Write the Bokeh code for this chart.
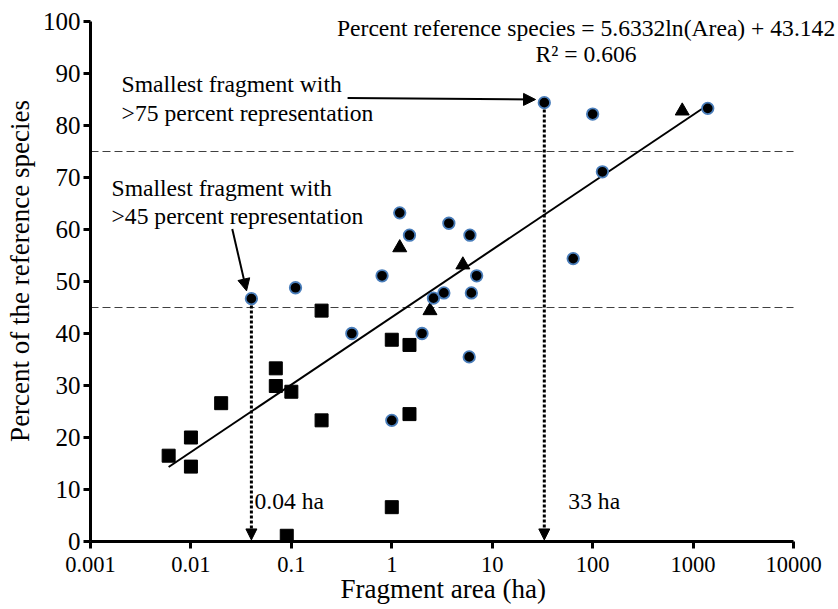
from bokeh.plotting import figure
from bokeh.models import Label, Arrow, NormalHead, FixedTicker, Title
from bokeh.embed import file_html
from bokeh.resources import INLINE
import math

# ---- data ----
circle_x = [0.04, 0.11, 0.4, 0.8, 1.0, 1.2, 1.5, 2.0, 2.6, 3.3, 3.7, 5.9, 6.0, 6.2, 7.0, 33, 64, 100, 125, 1400]
circle_y = [46.7, 48.8, 40.0, 51.1, 23.3, 63.2, 58.9, 40.0, 46.8, 47.8, 61.2, 35.5, 58.9, 47.8, 51.1, 84.4, 54.4, 82.2, 71.1, 83.3]

square_x = [0.006, 0.01, 0.01, 0.02, 0.07, 0.07, 0.09, 0.1, 0.2, 0.2, 1.0, 1.0, 1.5, 1.5]
square_y = [16.5, 20.0, 14.4, 26.6, 33.3, 29.9, 1.1, 28.8, 44.4, 23.3, 38.8, 6.6, 37.8, 24.5]

triangle_x = [1.2, 2.4, 5.1, 780]
triangle_y = [56.5, 44.4, 53.2, 82.8]

fit_slope = 5.6332
fit_intercept = 43.142
fit_x = [0.006, 1400]

thresholds = [45, 75]
threshold_areas = [0.04, 33]
threshold_area_y = [46.7, 84.4]

x_ticks = [0.001, 0.01, 0.1, 1, 10, 100, 1000, 10000]
x_tick_labels = ["0.001", "0.01", "0.1", "1", "10", "100", "1000", "10000"]
y_ticks = [0, 10, 20, 30, 40, 50, 60, 70, 80, 90, 100]

FONT = "Liberation Serif"

# frame extends past the axes so that the equation text is not clipped;
# the axes themselves are bounded to the tick range
p = figure(width=838, height=609, x_axis_type="log",
           x_range=(0.001, 10 ** 4.448), y_range=(0, 104.04),
           output_backend="svg", toolbar_location=None,
           min_border_left=90, min_border_right=0,
           min_border_top=0, min_border_bottom=68)
p.outline_line_color = None
p.xgrid.visible = False
p.ygrid.visible = False
p.background_fill_color = "white"
p.border_fill_color = "white"

for ax in (p.xaxis[0], p.yaxis[0]):
    ax.axis_line_width = 3
    ax.axis_line_color = "black"
    ax.major_tick_line_width = 3
    ax.major_tick_line_color = "black"
    ax.major_tick_out = 7
    ax.major_tick_in = 0
    ax.minor_tick_line_color = None
    ax.major_label_text_font = FONT
    ax.major_label_text_color = "black"
    ax.axis_label_text_font = FONT
    ax.axis_label_text_font_size = "27px"
    ax.axis_label_text_font_style = "normal"
    ax.axis_label_text_color = "black"

p.xaxis.major_label_text_font_size = "22.5px"
p.yaxis.major_label_text_font_size = "25px"
p.xaxis.ticker = FixedTicker(ticks=x_ticks)
p.xaxis.major_label_overrides = {t: l for t, l in zip(x_ticks, x_tick_labels)}
p.xaxis.bounds = (x_ticks[0], x_ticks[-1])
p.yaxis.ticker = FixedTicker(ticks=y_ticks)
p.yaxis.bounds = (y_ticks[0], y_ticks[-1])
p.yaxis.axis_label = "Percent of the reference species"
p.xaxis.major_label_standoff = 8
p.yaxis.major_label_standoff = 3
p.yaxis.axis_label_standoff = 5

p.add_layout(Title(text="Fragment area (ha)", align="left", offset=250, standoff=-6,
                   text_font=FONT, text_font_size="27px", text_font_style="normal",
                   text_color="black"), "below")

# threshold dashed lines
for t in thresholds:
    p.segment(x0=x_ticks[0], y0=t, x1=x_ticks[-1], y1=t, line_color="#404040",
              line_width=1, line_dash="8 4")

# trend line (from the chart's stated fit)
fit_y = [fit_slope * math.log(x) + fit_intercept for x in fit_x]
p.line(fit_x, fit_y, line_color="black", line_width=2)

# dotted vertical arrows
for xa, ya in zip(threshold_areas, threshold_area_y):
    p.add_layout(Arrow(x_start=xa, y_start=ya - 1.3, x_end=xa, y_end=0.3,
                       line_color="black", line_width=3, line_dash="3 2",
                       end=NormalHead(size=11, fill_color="black", line_color="black", line_width=1)))

# pointer arrows
p.add_layout(Arrow(x_start=0.363, y_start=85.3, x_end=27, y_end=85.0,
                   line_color="black", line_width=2,
                   end=NormalHead(size=12, fill_color="black", line_color="black", line_width=1)))
p.add_layout(Arrow(x_start=0.0258, y_start=60.1, x_end=0.0358, y_end=48.2,
                   line_color="black", line_width=2,
                   end=NormalHead(size=12, fill_color="black", line_color="black", line_width=1)))

# markers
p.scatter(square_x, square_y, marker="square", size=13, fill_color="black", line_color="black")
p.scatter(triangle_x, triangle_y, marker="triangle", size=14, fill_color="black", line_color="black")
p.scatter(circle_x, circle_y, marker="circle", size=11.5, fill_color="black",
          line_color="#4a7ebb", line_width=1.8)

# text annotations
def lab(x, y, text, align="left", size="23.6px"):
    p.add_layout(Label(x=x, y=y, text=text, text_font=FONT, text_font_size=size,
                       text_align=align, text_baseline="middle", text_color="black"))

lab(86, 98.8, "Percent reference species = 5.6332ln(Area) + 43.142", align="center")
lab(86, 93.8, "R² = 0.606", align="center")
lab(0.00204, 88.0, "Smallest fragment with")
lab(0.00204, 82.4, ">75 percent representation")
lab(0.00162, 68.0, "Smallest fragment with")
lab(0.00162, 62.6, ">45 percent representation")
lab(0.043, 7.8, "0.04 ha")
lab(57.3, 7.8, "33 ha")

open("out.html", "w").write(file_html(p, INLINE))
